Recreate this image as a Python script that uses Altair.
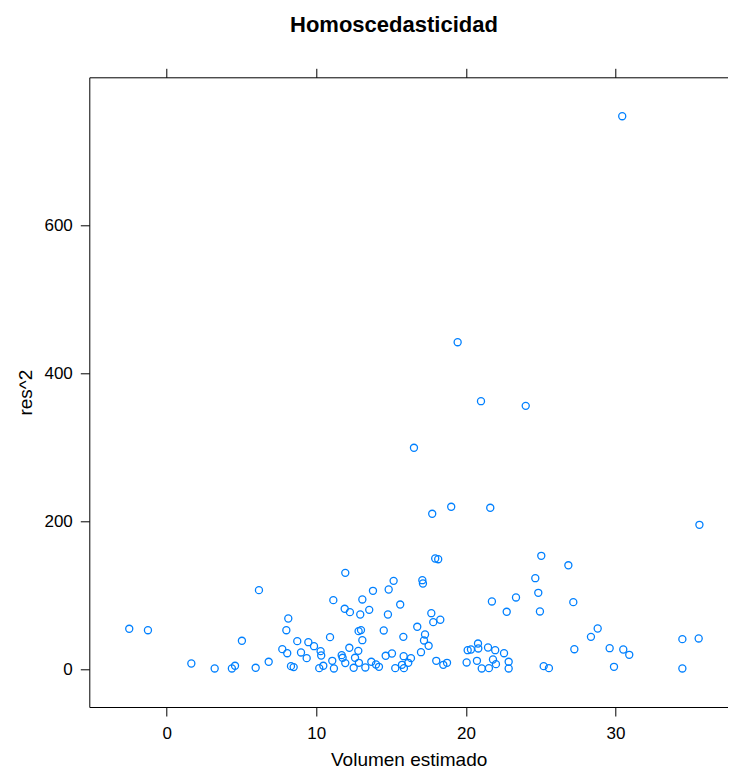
import altair as alt
import pandas as pd

vol = [-2.50, -1.25, 1.65, 3.21, 4.36, 4.57, 5.03, 5.95, 6.17, 6.82, 7.73, 8.00, 8.06, 8.13, 8.31, 8.49, 8.73, 8.98, 9.36, 9.47,
       9.85, 10.29, 10.33, 10.20, 10.47, 10.92, 11.07, 11.18, 11.14, 11.94, 11.70, 11.76, 11.94, 11.90, 12.21, 12.25, 12.50, 12.59,
       12.81, 12.85, 12.83, 12.99, 12.94, 13.08, 13.08, 13.28, 13.54, 13.68, 13.79, 13.99, 14.19, 14.51, 14.64, 14.79, 14.84, 15.06,
       15.17, 15.28, 15.61, 15.73, 15.82, 15.84, 15.86, 16.15, 16.33, 16.75, 17.00, 17.09, 17.13, 17.20, 17.27, 17.51, 17.69, 17.82,
       18.02, 17.95, 18.15, 18.29, 18.49, 18.74, 20.05, 20.12, 20.34, 20.74, 20.81, 20.83, 21.06, 21.48, 21.54, 21.74, 21.81, 21.96,
       22.01, 22.55, 22.73, 22.86, 22.86, 23.35,
       24.64, 24.84, 24.95, 25.04, 26.85, 27.18, 27.25, 25.20, 25.55, 28.36, 28.81, 29.61, 29.90, 30.52, 30.92, 34.47, 35.56, 34.47,
       19.45, 21.01, 24.00, 16.53, 17.75, 19.02, 21.63, 35.61, 30.45]
res2 = [55.0, 53.1, 8.1, 1.4, 1.4, 5.0, 38.8, 2.3, 107.2, 10.4, 27.5, 53.1, 22.0, 68.9, 4.5, 3.2, 38.3, 23.0, 15.3, 36.9,
        31.5, 24.8, 18.9, 1.8, 5.0, 43.7, 11.7, 1.4, 93.7, 130.6, 19.4, 15.8, 8.6, 82.0, 29.3, 77.5, 2.3, 15.8,
        25.2, 9.0, 51.8, 53.2, 74.3, 39.6, 94.6, 2.7, 80.6, 10.4, 106.3, 6.8, 3.6, 52.7, 18.5, 74.3, 108.1, 21.6,
        119.8, 1.8, 87.8, 6.3, 44.1, 18.0, 1.8, 9.0, 15.3, 57.7, 23.4, 120.7, 116.2, 39.2, 47.3, 32.0, 76.1, 64.0,
        11.7, 150.0, 149.0, 67.2, 6.3, 9.0, 9.5, 26.1, 27.0, 11.7, 35.1, 28.4, 1.4, 29.7, 1.8, 91.9, 13.5, 26.1,
        7.2, 22.0, 78.0, 10.4, 1.4, 97.3,
        123.4, 103.6, 78.4, 153.6, 140.8, 91.0, 27.4, 4.5, 1.8, 44.1, 55.4, 28.8, 3.6, 27.0, 19.8, 41.0, 41.9, 1.4,
        442.3, 362.6, 356.3, 299.6, 210.4, 219.9, 218.5, 195.5, 747.7]

x_ticks = [0, 10, 20, 30]
y_ticks = [0, 200, 400, 600]

df = pd.DataFrame({"vol": vol, "res2": res2})

FONT = "Liberation Sans"
xscale = alt.Scale(domain=[-5.17, 37.52], nice=False, zero=False)
yscale = alt.Scale(domain=[-50.7, 800.3], nice=False, zero=False)

axis_style = dict(grid=False, domainColor="black", tickColor="black", labelColor="black",
                  titleColor="black", domainWidth=1, tickWidth=1, tickSize=9,
                  labelFont=FONT, titleFont=FONT, labelFontSize=17, titleFontSize=19,
                  titleFontWeight="normal")

points = alt.Chart(df).mark_point(
    shape="circle", filled=False, size=50, strokeWidth=1.3, color="#0080ff", opacity=1
).encode(
    x=alt.X("vol:Q", scale=xscale,
            axis=alt.Axis(orient="bottom", values=x_ticks, title="Volumen estimado",
                          labelPadding=9, titlePadding=9, **axis_style)),
    y=alt.Y("res2:Q", scale=yscale,
            axis=alt.Axis(orient="left", values=y_ticks, title="res^2",
                          labelPadding=8, titlePadding=8, **axis_style)),
)

top = alt.Chart(df).mark_point(opacity=0).encode(
    x=alt.X("vol:Q", scale=xscale,
            axis=alt.Axis(orient="top", values=x_ticks, labels=False, title="", **axis_style)),
    y=alt.value(10),
)

chart = alt.layer(points, top).resolve_axis(x="independent").properties(
    width=638.7,
    height=629.7,
    autosize=alt.AutoSizeParams(type="none"),
    padding={"left": 81.3, "top": 69.3, "right": 0, "bottom": 62},
    title=alt.TitleParams("Homoscedasticidad", font=FONT, fontSize=22, fontWeight="bold",
                          color="black", anchor="middle", dx=-14.7, offset=14,
                          baseline="alphabetic"),
).configure_view(strokeWidth=0, stroke="transparent")

chart.save("out.html", embed_options={"renderer": "svg", "actions": False})
